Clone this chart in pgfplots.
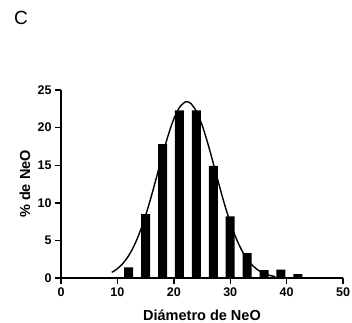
\documentclass[border=0pt]{standalone}
\usepackage{fontspec}
\setmainfont{Liberation Sans}
\usepackage{pgfplots}
\pgfplotsset{compat=1.18}

\begin{document}
\begin{tikzpicture}
\begin{axis}[
  at={(0,0)}, anchor=south west,
  width=282pt, height=188pt, scale only axis,
  xmin=0, xmax=50, ymin=0, ymax=25,
  axis x line*=bottom, axis y line*=left,
  xtick={0,10,...,50}, ytick={0,5,...,25},
  minor tick num=0,
  tick align=outside, major tick length=6pt,
  tick style={line width=1.4pt, black},
  axis line style={line width=1.8pt, black},
  /pgf/number format/assume math mode=true,
  ticklabel style={font=\fontsize{12.5}{13}\selectfont\bfseries},
  xlabel={Diámetro de NeO},
  ylabel={\% de NeO},
  label style={font=\fontsize{14.5}{15}\selectfont\bfseries},
  xlabel style={at={(axis description cs:0.5,0)}, anchor=base, yshift=-42.5pt},
  ylabel style={at={(axis description cs:-0.128,0.5)}, anchor=center},
]
% histogram of diameters
\addplot[ybar, bar width=1.6, fill=black, draw=none] coordinates {
  (12,1.4) (15,8.5) (18,17.8) (21,22.3) (24,22.3) (27,14.9)
  (30,8.2) (33,3.3) (36,1.05) (39,1.1) (42,0.5)
};
% fitted gaussian
\addplot[smooth, line width=1.4pt, black] coordinates {
  (9,0.75) (10,1.24) (11,1.96) (12,2.98) (13,4.36) (14,6.14)
  (15,8.32) (16,10.83) (17,13.58) (18,16.36) (19,18.97) (20,21.16)
  (21,22.69) (22,23.41) (22.3,23.45) (23,23.23) (24,22.17) (25,20.35)
  (26,17.97) (27,15.26) (28,12.46) (29,9.79) (30,7.40) (31,5.38)
  (32,3.76) (33,2.53) (34,1.64) (35,1.02) (36,0.61) (37,0.35) (38,0.19)
};
\end{axis}
\node[anchor=base west, inner sep=0pt, font=\fontsize{19}{19}\selectfont] at (-47pt,254pt) {C};
\pgfresetboundingbox
\path[use as bounding box] (-61pt,-44pt) rectangle (291pt,278pt);
\end{tikzpicture}
\end{document}
